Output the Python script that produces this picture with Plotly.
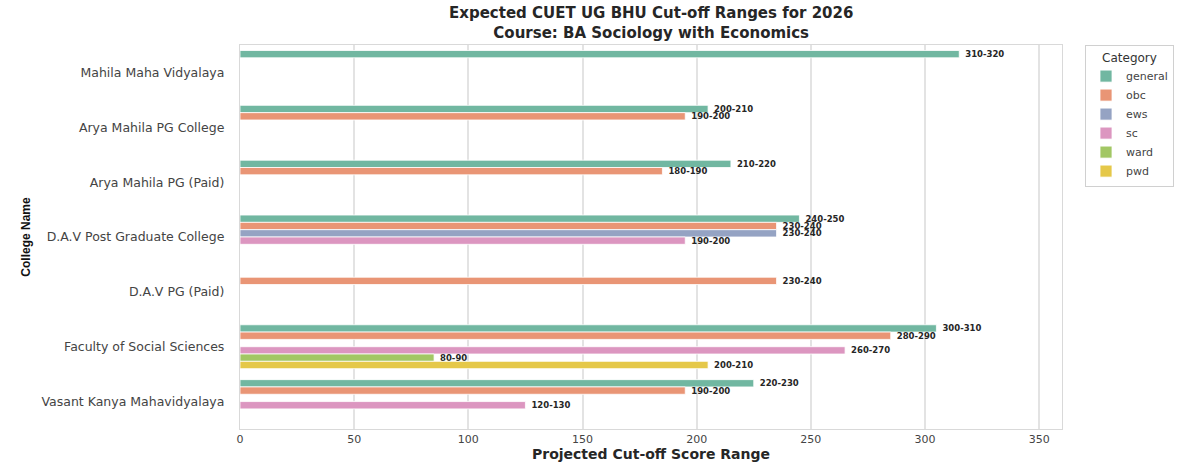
import plotly.graph_objects as go

colleges = [
    "Mahila Maha Vidyalaya",
    "Arya Mahila PG College",
    "Arya Mahila PG (Paid)",
    "D.A.V Post Graduate College",
    "D.A.V PG (Paid)",
    "Faculty of Social Sciences",
    "Vasant Kanya Mahavidyalaya",
]
categories = ["general", "obc", "ews", "sc", "ward", "pwd"]

# midpoint of projected range per category (None = no bar)
general = [315, 205, 215, 245, None, 305, 225]
obc = [None, 195, 185, 235, 235, 285, 195]
ews = [None, None, None, 235, None, None, None]
sc = [None, None, None, 195, None, 265, 125]
ward = [None, None, None, None, None, 85, None]
pwd = [None, None, None, None, None, 205, None]

general_lbl = ["310-320", "200-210", "210-220", "240-250", "", "300-310", "220-230"]
obc_lbl = ["", "190-200", "180-190", "230-240", "230-240", "280-290", "190-200"]
ews_lbl = ["", "", "", "230-240", "", "", ""]
sc_lbl = ["", "", "", "190-200", "", "260-270", "120-130"]
ward_lbl = ["", "", "", "", "", "80-90", ""]
pwd_lbl = ["", "", "", "", "", "200-210", ""]

values = [general, obc, ews, sc, ward, pwd]
labels = [general_lbl, obc_lbl, ews_lbl, sc_lbl, ward_lbl, pwd_lbl]
colors = ["#71b7a1", "#e99575", "#95a3c3", "#dc96c0", "#a2c764", "#e5c849"]

x_ticks = [0, 50, 100, 150, 200, 250, 300, 350]

title_text = "Expected CUET UG BHU Cut-off Ranges for 2026<br>Course: BA Sociology with Economics"

fig = go.Figure()
for name, vals, lbls, col in zip(categories, values, labels, colors):
    fig.add_trace(go.Bar(
        name=name,
        y=colleges,
        x=vals,
        orientation="h",
        text=lbls,
        texttemplate=" %{text}",
        textposition="outside",
        constraintext="none",
        cliponaxis=False,
        textfont=dict(family="DejaVu Sans", size=8.5, color="#262626", weight="bold"),
        marker=dict(color=col, line=dict(color="white", width=0.8)),
        hoverinfo="skip",
    ))

fig.add_annotation(text=title_text, xref="paper", yref="paper", x=0.5, y=1.058,
                   xanchor="center", yanchor="middle", showarrow=False,
                   font=dict(family="DejaVu Sans", size=15, color="#262626", weight="bold"))

fig.update_layout(
    width=1200,
    height=471,
    barmode="group",
    bargap=0.2,
    bargroupgap=0,
    paper_bgcolor="white",
    plot_bgcolor="white",
    margin=dict(l=240, r=138, t=45, b=36),
    font=dict(family="DejaVu Sans", color="#333333"),
    xaxis=dict(
        range=[0, 360],
        tickvals=x_ticks,
        showgrid=True,
        gridcolor="#e3e3e3",
        gridwidth=1.5,
        zeroline=False,
        showline=True,
        mirror=True,
        linecolor="#d9d9d9",
        linewidth=1.2,
        ticks="",
        tickfont=dict(family="DejaVu Sans", size=11, color="#444444"),
        title=dict(
            text="Projected Cut-off Score Range",
            font=dict(family="DejaVu Sans", size=14, color="#262626", weight="bold"),
            standoff=3,
        ),
    ),
    yaxis=dict(
        autorange="reversed",
        showgrid=False,
        zeroline=False,
        showline=True,
        mirror=True,
        linecolor="#d9d9d9",
        linewidth=1.2,
        ticks="",
        ticklabelstandoff=12,
        tickfont=dict(family="DejaVu Sans", size=12.5, color="#444444"),
        title=dict(
            text="College Name",
            font=dict(family="Liberation Sans Narrow, Liberation Sans, sans-serif",
                      size=12, color="#111111", weight="bold"),
            standoff=8,
        ),
    ),
    legend=dict(
        x=1.028,
        xanchor="left",
        y=1.0,
        yanchor="top",
        traceorder="normal",
        bordercolor="#d0d0d0",
        borderwidth=1,
        bgcolor="white",
        font=dict(family="DejaVu Sans", size=11, color="#444444"),
        title=dict(text="Category", side="top center",
                   font=dict(family="DejaVu Sans", size=12, color="#333333")),
    ),
)

fig.write_html("out.html")
